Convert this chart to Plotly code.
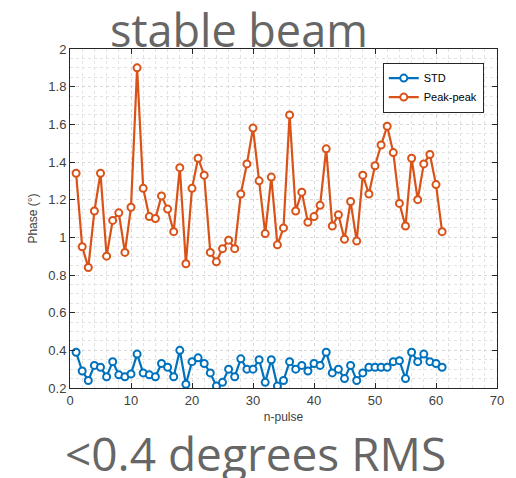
import plotly.graph_objects as go

n_pulse = list(range(1, 62))

std_vals = [0.39, 0.29, 0.24, 0.32, 0.31, 0.26, 0.34, 0.27, 0.26, 0.275,
            0.38, 0.28, 0.27, 0.26, 0.33, 0.31, 0.26, 0.40, 0.22, 0.34,
            0.36, 0.33, 0.28, 0.21, 0.23, 0.30, 0.26, 0.355, 0.30, 0.30,
            0.35, 0.23, 0.35, 0.21, 0.24, 0.34, 0.30, 0.32, 0.29, 0.33,
            0.32, 0.39, 0.28, 0.30, 0.25, 0.32, 0.24, 0.28, 0.31, 0.31,
            0.31, 0.31, 0.34, 0.345, 0.25, 0.39, 0.34, 0.38, 0.34, 0.33,
            0.31]

peak_vals = [1.34, 0.95, 0.84, 1.14, 1.34, 0.90, 1.09, 1.13, 0.92, 1.16,
             1.90, 1.26, 1.11, 1.10, 1.22, 1.15, 1.03, 1.37, 0.86, 1.26,
             1.42, 1.33, 0.92, 0.87, 0.94, 0.985, 0.94, 1.23, 1.39, 1.58,
             1.30, 1.02, 1.32, 0.96, 1.05, 1.65, 1.14, 1.24, 1.08, 1.11,
             1.17, 1.47, 1.06, 1.12, 0.99, 1.19, 0.98, 1.33, 1.23, 1.38,
             1.49, 1.59, 1.45, 1.18, 1.06, 1.42, 1.20, 1.39, 1.44, 1.28,
             1.03]

x_ticks = [0, 10, 20, 30, 40, 50, 60, 70]
y_ticks = [0.2, 0.4, 0.6, 0.8, 1.0, 1.2, 1.4, 1.6, 1.8, 2.0]
y_tick_text = ["0.2", "0.4", "0.6", "0.8", "1", "1.2", "1.4", "1.6", "1.8", "2"]

BLUE = "#0072BD"
ORANGE = "#D95319"
AXC = "#262626"
TXT = "#404040"

fig = go.Figure()
for name, vals, col in [("STD", std_vals, BLUE), ("Peak-peak", peak_vals, ORANGE)]:
    fig.add_trace(go.Scatter(
        x=n_pulse, y=vals, name=name, mode="lines+markers",
        line=dict(color=col, width=2.2),
        marker=dict(symbol="circle", size=7, color="white",
                    line=dict(color=col, width=2)),
    ))

axis_common = dict(
    showline=True, linecolor=AXC, linewidth=1, mirror="ticks",
    ticks="inside", ticklen=5, tickcolor=AXC,
    showgrid=True, gridcolor="#D9D9D9", griddash="dot", gridwidth=1,
    zeroline=False,
    tickfont=dict(family="Liberation Sans, Arial", size=13, color=TXT),
)

fig.update_xaxes(
    range=[0, 70], tickvals=x_ticks,
    minor=dict(dtick=2, showgrid=True, gridcolor="#E3E3E3", griddash="dot", ticks=""),
    title=dict(text="n-pulse", font=dict(family="Liberation Sans, Arial", size=12, color=TXT), standoff=6),
    **axis_common,
)
fig.update_yaxes(
    range=[0.2, 2.0], tickvals=y_ticks, ticktext=y_tick_text,
    minor=dict(dtick=0.05, showgrid=True, gridcolor="#E3E3E3", griddash="dot", ticks=""),
    title=dict(text="Phase (°)", font=dict(family="Liberation Sans, Arial", size=12, color=TXT), standoff=8),
    **axis_common,
)

fig.update_layout(
    width=516, height=478,
    margin=dict(l=70, r=16, t=49, b=90),
    paper_bgcolor="white", plot_bgcolor="white",
    showlegend=True,
    legend=dict(
        x=0.969, y=0.96, xanchor="right", yanchor="top",
        bgcolor="white", bordercolor="#262626", borderwidth=1,
        font=dict(family="Liberation Sans, Arial", size=11, color="#000000"),
        itemwidth=30, tracegroupgap=0,
    ),
    annotations=[
        dict(text="stable beam", xref="paper", yref="paper", x=(240 - 70) / 430, y=1.058,
             xanchor="center", yanchor="middle", showarrow=False,
             font=dict(family="Open Sans", size=45, color="#666666")),
        dict(text="&lt;0.4 degrees RMS", xref="paper", yref="paper", x=(257 - 70) / 430, y=-0.192,
             xanchor="center", yanchor="middle", showarrow=False,
             font=dict(family="Open Sans", size=46, color="#666666")),
    ],
)

fig.write_html("out.html")
